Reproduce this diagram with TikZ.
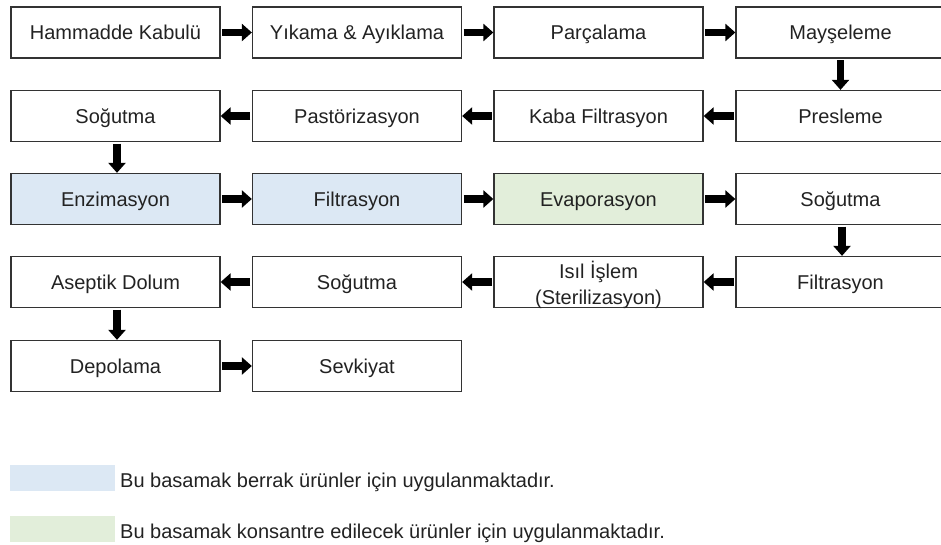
\documentclass[tikz,border=0pt]{standalone}
\usepackage{fontspec}
\setmainfont{Liberation Sans}
\usetikzlibrary{arrows.meta}
\definecolor{bluefill}{HTML}{DCE8F4}
\definecolor{greenfill}{HTML}{E2EEDA}
\definecolor{txt}{HTML}{222222}
\tikzset{
  box/.style={draw=black!80, line width=1.3pt, minimum width=209pt, minimum height=51pt,
    inner sep=0pt, font=\fontsize{20}{26}\selectfont, text=txt, text height=14.3pt, text depth=0pt},
  twoline/.style={draw=black!80, line width=1.3pt, minimum width=209pt, minimum height=51pt,
    inner sep=0pt, font=\fontsize{20}{26}\selectfont, text=txt, align=center},
  flow/.style={line width=7.5pt, -{Triangle[length=10pt,width=17pt]}, shorten <=1.5pt},
  legendbox/.style={minimum width=105pt, minimum height=26pt, inner sep=0pt},
  legendtext/.style={anchor=west, inner sep=0pt, font=\fontsize{20}{24}\selectfont, text=txt,
    text height=14.3pt, text depth=0pt}
}
\begin{document}
\begin{tikzpicture}[x=1pt,y=-1pt]
\useasboundingbox (0,0) rectangle (941,545);
% row 1
\node[box] (a1) at (115.5,32.5) {Hammadde Kabulü};
\node[box] (a2) at (357,32.5) {Yıkama \& Ayıklama};
\node[box] (a3) at (598.5,32.5) {Parçalama};
\node[box] (a4) at (840.5,32.5) {Mayşeleme};
% row 2
\node[box] (b1) at (115.5,116) {Soğutma};
\node[box] (b2) at (357,116) {Pastörizasyon};
\node[box] (b3) at (598.5,116) {Kaba Filtrasyon};
\node[box] (b4) at (840.5,116) {Presleme};
% row 3
\node[box, fill=bluefill] (c1) at (115.5,199) {Enzimasyon};
\node[box, fill=bluefill] (c2) at (357,199) {Filtrasyon};
\node[box, fill=greenfill] (c3) at (598.5,199) {Evaporasyon};
\node[box] (c4) at (840.5,199) {Soğutma};
% row 4
\node[box] (d1) at (115.5,282) {Aseptik Dolum};
\node[box] (d2) at (357,282) {Soğutma};
\node[twoline] (d3) at (598.5,282) {};
\node[align=center, inner sep=0pt, font=\fontsize{20}{26}\selectfont, text=txt] (d3t) at (598.5,285) {Isıl İşlem\\(Sterilizasyon)};
\node[box] (d4) at (840.5,282) {Filtrasyon};
% row 5
\node[box] (e1) at (115.5,366) {Depolama};
\node[box] (e2) at (357,366) {Sevkiyat};
% arrows
\draw[flow] (a1) -- (a2);
\draw[flow] (a2) -- (a3);
\draw[flow] (a3) -- (a4);
\draw[flow] (a4) -- (b4);
\draw[flow] (b4) -- (b3);
\draw[flow] (b3) -- (b2);
\draw[flow] (b2) -- (b1);
\draw[flow] (b1.south -| 117,0) -- (c1.north -| 117,0);
\draw[flow] (c1) -- (c2);
\draw[flow] (c2) -- (c3);
\draw[flow] (c3) -- (c4);
\draw[flow] (c4.south -| 842,0) -- (d4.north -| 842,0);
\draw[flow] (d4) -- (d3);
\draw[flow] (d3) -- (d2);
\draw[flow] (d2) -- (d1);
\draw[flow] (d1.south -| 117,0) -- (e1.north -| 117,0);
\draw[flow] (e1) -- (e2);
% legend
\node[legendbox, fill=bluefill] (l1) at (62.5,478) {};
\node[legendbox, fill=greenfill] (l2) at (62.5,529) {};
\node[legendtext] (t1) at (120,480.5) {Bu basamak berrak ürünler için uygulanmaktadır.};
\node[legendtext] (t2) at (120,531) {Bu basamak konsantre edilecek ürünler için uygulanmaktadır.};
\end{tikzpicture}
\end{document}
